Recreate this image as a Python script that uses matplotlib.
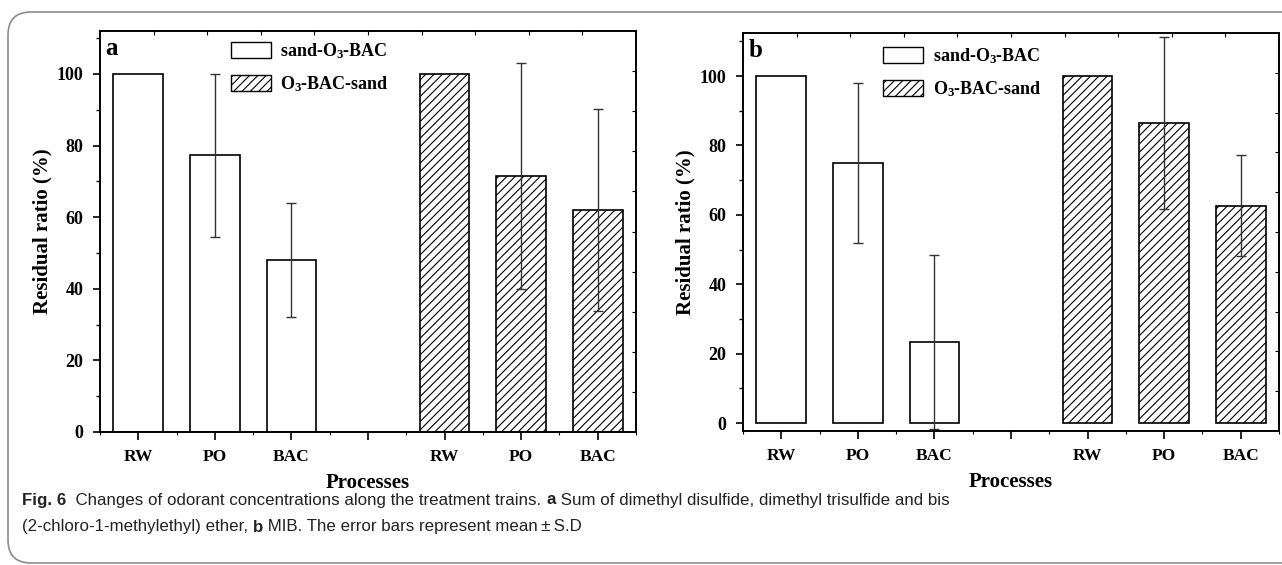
import numpy as np
import matplotlib
matplotlib.use("Agg")
import matplotlib.pyplot as plt
from matplotlib.patches import FancyBboxPatch, Patch
from matplotlib.ticker import MultipleLocator, FixedLocator

plt.rcParams['font.family'] = ['Liberation Serif', 'DejaVu Serif']
plt.rcParams['font.weight'] = 'bold'
plt.rcParams['mathtext.fontset'] = 'custom'
plt.rcParams['mathtext.rm'] = 'Liberation Serif:bold'
plt.rcParams['mathtext.bf'] = 'Liberation Serif:bold'
plt.rcParams['mathtext.it'] = 'Liberation Serif:bold'
plt.rcParams['hatch.linewidth'] = 0.8

# ---- data ----
categories = ['RW', 'PO', 'BAC', '', 'RW', 'PO', 'BAC']
series_names = ['sand-O$_3$-BAC', 'O$_3$-BAC-sand']

a_sand_first = [100, 77.3, 48.0]
a_sand_first_err = [0, 22.7, 16.0]
a_sand_last = [100, 71.5, 62.0]
a_sand_last_err = [0, 31.5, 28.2]

b_sand_first = [100, 75.0, 23.3]
b_sand_first_err = [0, 23.0, 25.0]
b_sand_last = [100, 86.5, 62.6]
b_sand_last_err = [0, 24.7, 14.6]

panel_letters = ['a', 'b']
ylabel = 'Residual ratio (%)'
xlabel = 'Processes'

W, H = 1282, 565
fig = plt.figure(figsize=(W / 100, H / 100), dpi=100)

# outer rounded frame
frame = FancyBboxPatch((8 / W, 1 - 563 / H), (1320 - 8) / W, (563 - 12) / H,
                       boxstyle="round,pad=0,rounding_size=0.018",
                       transform=fig.transFigure, fill=False,
                       edgecolor='#8c8c8c', linewidth=1.2, mutation_aspect=W / H)
fig.patches.append(frame)


def px_axes(l, r, t, b):
    return [l / W, 1 - b / H, (r - l) / W, (b - t) / H]


panels = [
    dict(rect=px_axes(100, 636, 31, 432), ylim=(0, 112),
         s1=a_sand_first, e1=a_sand_first_err, s2=a_sand_last, e2=a_sand_last_err,
         letter=panel_letters[0], legend_anchor=(0.244, 0.975)),
    dict(rect=px_axes(743, 1279, 33, 431), ylim=(-2.3, 112.4),
         s1=b_sand_first, e1=b_sand_first_err, s2=b_sand_last, e2=b_sand_last_err,
         letter=panel_letters[1], legend_anchor=(0.261, 0.967)),
]

x = np.arange(len(categories))
bw = 0.65

for p in panels:
    ax = fig.add_axes(p['rect'])
    x1 = x[:3]
    x2 = x[4:]
    ax.bar(x1, p['s1'], width=bw, facecolor='white', edgecolor='black', linewidth=1.2, zorder=2)
    ax.bar(x2, p['s2'], width=bw, facecolor='white', edgecolor='black', linewidth=1.2,
           hatch='////', zorder=2)
    ax.errorbar(x1[1:], p['s1'][1:], yerr=p['e1'][1:], fmt='none', ecolor='#333333',
                elinewidth=1.0, capsize=3.5, capthick=1.0, zorder=3)
    ax.errorbar(x2[1:], p['s2'][1:], yerr=p['e2'][1:], fmt='none', ecolor='#333333',
                elinewidth=1.0, capsize=3.5, capthick=1.0, zorder=3)

    ax.set_xlim(-0.5, 6.5)
    ax.set_ylim(*p['ylim'])
    ax.set_xticks(x)
    ax.set_xticklabels(categories, fontsize=12.5, fontweight='bold')
    ax.xaxis.set_minor_locator(FixedLocator(np.arange(-0.5, 6.6, 1.0)))
    ax.yaxis.set_major_locator(MultipleLocator(20))
    ax.yaxis.set_minor_locator(MultipleLocator(10))
    ax.tick_params(axis='y', which='major', direction='out', length=5, width=1.2,
                   labelsize=13, pad=7)
    ax.tick_params(axis='y', which='minor', direction='out', length=3, width=1.0)
    ax.tick_params(axis='x', which='major', direction='out', length=6, width=1.2,
                   labelsize=12.5, pad=6)
    ax.tick_params(axis='x', which='minor', direction='out', length=2, width=0.8)
    for lab in ax.get_yticklabels():
        lab.set_fontweight('bold')
    for s in ax.spines.values():
        s.set_linewidth(1.4)
    ax.set_ylabel(ylabel, fontsize=15, fontweight='bold', labelpad=3)
    ax.set_xlabel(xlabel, fontsize=15, fontweight='bold', labelpad=6)

    # top/right inward ticks
    axt = ax.twiny()
    axt.set_xlim(0, 1)
    axt.set_xticks(np.arange(0.1, 0.95, 0.1))
    axt.tick_params(axis='x', direction='in', length=3, width=0.8, labeltop=False)
    axr = ax.twinx()
    axr.set_ylim(0, 1)
    axr.set_yticks(np.arange(0.1, 0.95, 0.1))
    axr.tick_params(axis='y', direction='in', length=3, width=0.8, labelright=False)
    for a2 in (axt, axr):
        for s in a2.spines.values():
            s.set_visible(False)

    ax.text(0.01, 0.985, p['letter'], transform=ax.transAxes, ha='left', va='top',
            fontsize=18, fontweight='bold')

    handles = [Patch(facecolor='white', edgecolor='black', linewidth=1.0),
               Patch(facecolor='white', edgecolor='black', linewidth=1.0, hatch='////')]
    leg = ax.legend(handles, series_names, loc='upper left', bbox_to_anchor=p['legend_anchor'],
                    frameon=False, borderpad=0, borderaxespad=0, handlelength=2.2,
                    handleheight=0.95, handletextpad=0.55, labelspacing=0.75,
                    prop={'family': 'Liberation Serif', 'weight': 'bold', 'size': 13})

# ---- caption ----
cap_font = ['Liberation Sans', 'DejaVu Sans']
cap_size = 12.2
line1 = [('Fig. 6', 'bold'), ('  Changes of odorant concentrations along the treatment trains. ', 'normal'),
         ('a', 'bold'), (' Sum of dimethyl disulfide, dimethyl trisulfide and bis', 'normal')]
line2 = [('(2-chloro-1-methylethyl) ether, ', 'normal'), ('b', 'bold'),
         (' MIB. The error bars represent mean\u2009\u00b1\u2009S.D', 'normal')]

renderer = fig.canvas.get_renderer()
for line, ypx in ((line1, 500), (line2, 527)):
    xpx = 22
    for txt, wt in line:
        t = fig.text(xpx / W, 1 - ypx / H, txt, fontsize=cap_size, fontweight=wt,
                     family=cap_font, va='center', ha='left', color='#222222')
        bb = t.get_window_extent(renderer=renderer)
        xpx += bb.width

fig.savefig('out.png', dpi=100)
